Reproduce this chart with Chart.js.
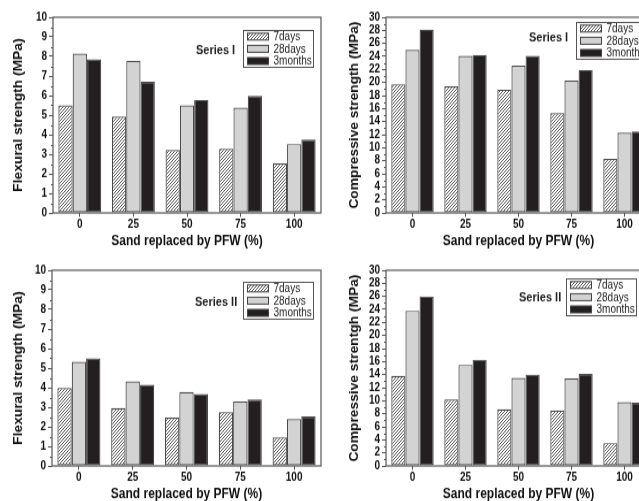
<!DOCTYPE html>
<html><head><meta charset="utf-8">
<script src="https://cdn.jsdelivr.net/npm/chart.js@4"></script>
<style>
html,body{margin:0;padding:0;background:#fff;overflow:hidden;width:639px;height:501px;position:relative;}
.c{position:absolute;}
canvas{display:block;}
</style></head><body>
<div class="c" style="left:0;top:0"><canvas id="c1" width="330" height="219" style="width:330px;height:252px"></canvas></div>
<div class="c" style="left:330px;top:0"><canvas id="c2" width="330" height="219" style="width:330px;height:252px"></canvas></div>
<div class="c" style="left:0;top:253px"><canvas id="c3" width="330" height="219" style="width:330px;height:252px"></canvas></div>
<div class="c" style="left:330px;top:253px"><canvas id="c4" width="330" height="219" style="width:330px;height:252px"></canvas></div>
<script>
// ---- data ----
const categories = ['0', '25', '50', '75', '100'];
const seriesNames = ['7days', '28days', '3months'];

const flexI_7d  = [5.50, 4.93, 3.22, 3.28, 2.53];
const flexI_28d = [8.15, 7.78, 5.50, 5.38, 3.52];
const flexI_3m  = [7.85, 6.70, 5.77, 5.98, 3.75];

const compI_7d  = [19.7, 19.4, 18.9, 15.3, 8.3];
const compI_28d = [25.0, 24.1, 22.6, 20.3, 12.3];
const compI_3m  = [28.1, 24.2, 24.1, 21.9, 12.5];

const flexII_7d  = [3.98, 2.95, 2.47, 2.75, 1.45];
const flexII_28d = [5.32, 4.32, 3.78, 3.30, 2.39];
const flexII_3m  = [5.50, 4.15, 3.67, 3.40, 2.53];

const compII_7d  = [13.8, 10.2, 8.7, 8.5, 3.5];
const compII_28d = [23.8, 15.5, 13.5, 13.4, 9.8];
const compII_3m  = [26.0, 16.3, 14.0, 14.1, 9.7];

const xTitle = 'Sand replaced by PFW (%)';
const FAM = '"Liberation Sans", Arial, sans-serif';

// ---- styles ----
function hatchPattern() {
  const n = 3;
  const c = document.createElement('canvas');
  c.width = n; c.height = n;
  const g = c.getContext('2d');
  g.fillStyle = '#ffffff'; g.fillRect(0, 0, n, n);
  g.strokeStyle = '#444444'; g.lineWidth = 0.9;
  g.beginPath();
  g.moveTo(0, n); g.lineTo(n, 0);
  g.moveTo(-1, 1); g.lineTo(1, -1);
  g.moveTo(n - 1, n + 1); g.lineTo(n + 1, n - 1);
  g.stroke();
  return g.createPattern(c, 'repeat');
}
const HATCH = hatchPattern();
const fills = [HATCH, '#d3d3d3', '#231f20'];
const EDGE = '#4a4a4a';

const framePlugin = {
  id: 'frame',
  afterDraw(chart) {
    const {ctx, chartArea: a} = chart;
    ctx.save();
    ctx.strokeStyle = '#555'; ctx.lineWidth = 1.2;
    ctx.strokeRect(a.left, a.top, a.right - a.left, a.bottom - a.top);
    ctx.restore();
  }
};

const minorTicks = {
  id: 'minorTicks',
  afterDraw(chart) {
    const y = chart.scales.y, ctx = chart.ctx, a = chart.chartArea;
    const t = y.ticks;
    ctx.save();
    ctx.strokeStyle = '#555'; ctx.lineWidth = 1;
    ctx.beginPath();
    for (let i = 0; i < t.length - 1; i++) {
      const v = (t[i].value + t[i + 1].value) / 2;
      const p = Math.round(y.getPixelForValue(v)) + 0.5;
      ctx.moveTo(a.left - 2, p); ctx.lineTo(a.left, p);
    }
    ctx.stroke();
    ctx.restore();
  }
};

const boxLegend = {
  id: 'boxLegend',
  afterDraw(chart, args, o) {
    const {ctx, chartArea: a} = chart;
    const x = Math.round(a.left + o.dx) + 0.5, y = Math.round(a.top + o.dy) + 0.5;
    const w = 70, h = 32, first = 5.3, pitch = 10.6, sw = 21, sh = 6;
    ctx.save();
    ctx.fillStyle = '#fff'; ctx.fillRect(x, y, w, h);
    ctx.strokeStyle = '#555'; ctx.lineWidth = 1; ctx.strokeRect(x, y, w, h);
    chart.data.datasets.forEach((ds, i) => {
      const cy = y + first + i * pitch;
      ctx.fillStyle = ds.backgroundColor;
      ctx.fillRect(x + 4, cy - sh / 2, sw, sh);
      ctx.strokeStyle = '#444'; ctx.lineWidth = 1;
      ctx.strokeRect(x + 4, cy - sh / 2, sw, sh);
      ctx.fillStyle = '#222';
      ctx.font = '10px ' + FAM;
      ctx.textBaseline = 'middle'; ctx.textAlign = 'left';
      ctx.fillText(ds.label, x + 30, cy + 0.5);
    });
    ctx.fillStyle = '#222';
    ctx.font = 'bold 11px ' + FAM;
    ctx.textBaseline = 'middle'; ctx.textAlign = 'left';
    ctx.fillText(o.series, a.left + o.sdx, a.top + o.sdy);
    ctx.restore();
  }
};

function makeChart(id, v7, v28, v3m, yMax, yStep, yTitle, yWidth, yTitlePad, leg) {
  const vals = [v7, v28, v3m];
  new Chart(document.getElementById(id), {
    type: 'bar',
    data: {
      labels: categories,
      datasets: seriesNames.map((n, i) => ({
        label: n,
        data: vals[i],
        backgroundColor: fills[i],
        borderColor: EDGE,
        borderWidth: 1.2,
        borderSkipped: false,
        categoryPercentage: 0.8,
        barPercentage: 1.0
      }))
    },
    options: {
      responsive: false,
      animation: false,
      devicePixelRatio: 1,
      layout: {padding: {top: 15, right: 9, left: 0, bottom: 0}},
      plugins: {
        legend: {display: false},
        tooltip: {enabled: false},
        boxLegend: leg
      },
      scales: {
        x: {
          type: 'category',
          offset: true,
          grid: {offset: false, drawOnChartArea: false, drawTicks: true, tickLength: 3.5, tickColor: '#555', tickWidth: 1},
          border: {display: false},
          ticks: {font: {family: FAM, weight: 'bold', size: 10}, color: '#111', padding: 1, maxRotation: 0},
          title: {display: true, text: xTitle, font: {family: FAM, weight: 'bold', size: 12}, color: '#111', padding: {top: 0, bottom: 2}},
          afterFit(s) { s.height = 34; }
        },
        y: {
          min: 0, max: yMax,
          ticks: {stepSize: yStep, autoSkip: false, font: {family: FAM, weight: 'bold', size: 10, lineHeight: 1.0}, color: '#111', padding: 2},
          grid: {drawOnChartArea: false, drawTicks: true, tickLength: 4, tickColor: '#555', tickWidth: 1},
          border: {display: false},
          title: {display: true, text: yTitle, font: {family: FAM, weight: 'bold', size: 12}, color: '#111', padding: {top: yTitlePad, bottom: 0}},
          afterFit(s) { s.width = yWidth; }
        }
      }
    },
    plugins: [framePlugin, minorTicks, boxLegend]
  });
}

makeChart('c1', flexI_7d, flexI_28d, flexI_3m, 10, 1, 'Flexural strength (MPa)', 53, 11,
  {dx: 190, dy: 11.3, series: 'Series I', sdx: 143, sdy: 28.7});
makeChart('c2', compI_7d, compI_28d, compI_3m, 30, 2, 'Compressive strength (MPa)', 56, 17,
  {dx: 190, dy: 4.3, series: 'Series I', sdx: 143, sdy: 18.3});
makeChart('c3', flexII_7d, flexII_28d, flexII_3m, 10, 1, 'Flexural strength (MPa)', 52, 11,
  {dx: 191, dy: 10.4, series: 'Series II', sdx: 143, sdy: 27.8});
makeChart('c4', compII_7d, compII_28d, compII_3m, 30, 2, 'Compressive strentgh (MPa)', 56, 17,
  {dx: 180, dy: 7, series: 'Series II', sdx: 133, sdy: 23.5});
</script>
</body></html>
